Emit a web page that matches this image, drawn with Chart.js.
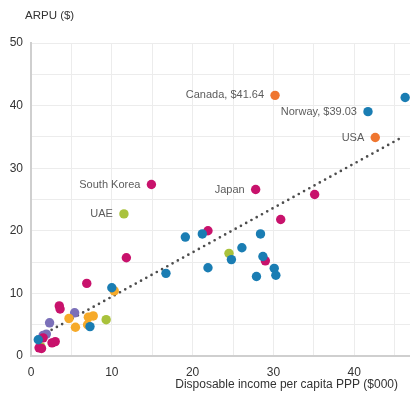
<!DOCTYPE html>
<html>
<head>
<meta charset="utf-8">
<script src="https://cdn.jsdelivr.net/npm/chart.js@4.4.1/dist/chart.umd.min.js"></script>
<style>
  html, body { margin: 0; padding: 0; background: #fff; }
  #wrap { width: 410px; height: 399px; position: relative; }
</style>
</head>
<body>
<div id="wrap"><canvas id="arpu-chart"></canvas></div>
<script>
// Disposable income per capita PPP ($000) vs ARPU ($), grouped by colour
const blueIncome = [46.3, 41.7, 19.1, 21.2, 28.4, 26.1, 24.8, 28.7, 16.7, 21.9, 27.9, 30.1, 30.3, 10.0, 7.3, 0.9];
const blueArpu   = [41.3, 39.03, 19.0, 19.5, 19.5, 17.3, 15.4, 15.9, 13.2, 14.1, 12.7, 14.0, 12.9, 10.9, 4.7, 2.6];

const magentaIncome = [14.9, 27.8, 35.1, 30.9, 11.8, 21.9, 29.0, 6.9, 3.5, 3.6, 1.5, 2.6, 3.0, 1.0, 1.3];
const magentaArpu   = [27.4, 26.6, 25.8, 21.8, 15.7, 20.0, 15.2, 11.6, 8.0, 7.5, 2.9, 2.1, 2.3, 1.3, 1.2];

const orangeIncome = [30.2, 42.6];
const orangeArpu   = [41.64, 34.9];

const amberIncome = [10.3, 4.7, 5.5, 7.1, 7.7, 7.0];
const amberArpu   = [10.4, 6.0, 4.6, 6.2, 6.4, 5.0];

const limeIncome = [11.5, 24.5, 9.3, 1.2];
const limeArpu   = [22.7, 16.4, 5.8, 1.5];

const purpleIncome = [5.4, 2.3, 1.9, 1.5];
const purpleArpu   = [6.9, 5.3, 3.5, 3.3];

// dotted trend line end points
const trendIncome = [0.6, 46.0];
const trendArpu   = [2.8, 35.0];

// named countries
const calloutText   = ['Canada, $41.64', 'Norway, $39.03', 'USA', 'South Korea', 'Japan', 'UAE'];
const calloutIncome = [30.2, 41.7, 42.6, 14.9, 27.8, 11.5];
const calloutArpu   = [41.64, 39.03, 34.9, 27.4, 26.6, 22.7];

const FONT = "'Liberation Sans', Arial, sans-serif";

function pairs(xs, ys) {
  return xs.map((x, i) => ({ x: x, y: ys[i] }));
}

function dots(data, color) {
  return {
    type: 'scatter',
    data: data,
    backgroundColor: color,
    borderWidth: 0,
    pointRadius: 4.7,
    pointHoverRadius: 4.7,
    order: 1
  };
}

// country names to the left of their dots, plus both axis titles
const annotations = {
  id: 'annotations',
  afterDatasetsDraw(chart) {
    const ctx = chart.ctx;
    const xs = chart.scales.x;
    const ys = chart.scales.y;
    ctx.save();
    ctx.font = '11px ' + FONT;
    ctx.fillStyle = '#5c5c5c';
    ctx.textAlign = 'right';
    ctx.textBaseline = 'middle';
    calloutText.forEach((t, i) => {
      ctx.fillText(t, xs.getPixelForValue(calloutIncome[i]) - 11, ys.getPixelForValue(calloutArpu[i]));
    });
    ctx.fillStyle = '#333';
    ctx.font = '11.5px ' + FONT;
    ctx.textAlign = 'left';
    ctx.fillText('ARPU ($)', 25, 16);
    ctx.font = '12px ' + FONT;
    ctx.textAlign = 'right';
    ctx.fillText('Disposable income per capita PPP ($000)', 398, 385);
    ctx.restore();
  }
};

const ctx = document.getElementById('arpu-chart').getContext('2d');
new Chart(ctx, {
  type: 'scatter',
  data: {
    datasets: [
      {
        type: 'line',
        data: pairs(trendIncome, trendArpu),
        borderColor: '#4d4d4d',
        borderWidth: 2.7,
        borderDash: [0, 6],
        borderCapStyle: 'round',
        pointRadius: 0,
        fill: false,
        order: 10
      },
      dots(pairs(blueIncome, blueArpu), '#1a7db3'),
      dots(pairs(magentaIncome, magentaArpu), '#c8126c'),
      dots(pairs(orangeIncome, orangeArpu), '#ef7630'),
      dots(pairs(amberIncome, amberArpu), '#f6aa2a'),
      dots(pairs(limeIncome, limeArpu), '#a9c23c'),
      dots(pairs(purpleIncome, purpleArpu), '#7b70b9')
    ]
  },
  options: {
    responsive: true,
    maintainAspectRatio: false,
    animation: false,
    // the plot runs right up to the canvas edge
    layout: { autoPadding: false, padding: { top: 43, right: 0, bottom: 0, left: 0 } },
    plugins: {
      legend: { display: false },
      tooltip: { enabled: false }
    },
    scales: {
      x: {
        type: 'linear',
        min: 0,
        max: 46.9,
        grid: { color: '#ececec', drawTicks: false },
        border: { color: '#cfcfcf', width: 2 },
        ticks: {
          stepSize: 5,
          includeBounds: false,
          padding: 9,
          maxRotation: 0,
          color: '#333',
          font: { family: FONT, size: 12 },
          callback: v => (v % 10 === 0 ? v : '')
        },
        afterFit: s => { s.height = 43; }
      },
      y: {
        type: 'linear',
        min: 0,
        max: 50,
        grid: { color: '#ececec', drawTicks: false },
        border: { color: '#cfcfcf', width: 2 },
        ticks: {
          stepSize: 5,
          padding: 8,
          color: '#333',
          font: { family: FONT, size: 12 },
          callback: v => (v % 10 === 0 ? v : '')
        },
        afterFit: s => { s.width = 31; }
      }
    }
  },
  plugins: [annotations]
});
</script>
</body>
</html>
